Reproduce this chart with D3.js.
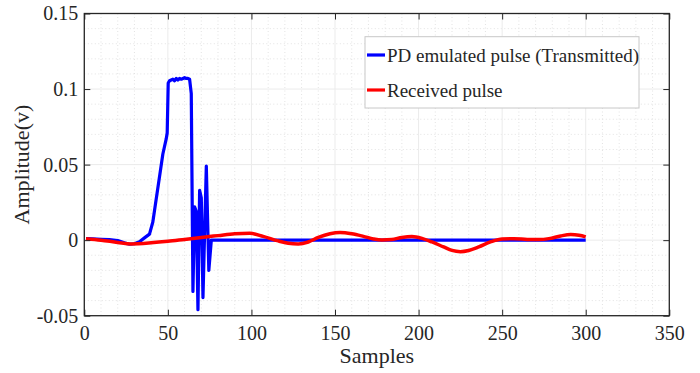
<!DOCTYPE html>
<html>
<head>
<meta charset="utf-8">
<script src="https://cdn.jsdelivr.net/npm/d3@7"></script>
<style>
  body { margin: 0; background: #fff; }
  svg text { font-family: "Liberation Serif", "Times New Roman", serif; fill: #262626; }
</style>
</head>
<body>
<div id="chart"></div>
<script>
// transmitted pulse (sample, amplitude)
const txSamples = [1, 5, 10, 15, 20, 24, 27, 30, 33, 36, 39, 41, 43, 45, 47, 49, 49.6, 50.2, 51, 52, 53, 54, 55, 56, 57, 58, 59, 60, 61, 62, 63, 64, 65, 66, 67, 68, 69, 70, 71, 73, 74.5, 76, 300];
const txValues  = [0.001, 0.0008, 0.0005, 0.0003, -0.0003, -0.0018, -0.0027, -0.0024, -0.001, 0.0015, 0.004, 0.012, 0.027, 0.042, 0.057, 0.067, 0.071, 0.104, 0.1055, 0.106, 0.1065, 0.1055, 0.107, 0.106, 0.107, 0.1065, 0.107, 0.1075, 0.107, 0.107, 0.1065, 0.097, -0.034, 0.022, 0.019, -0.046, 0.033, 0.028, -0.038, 0.049, -0.02, 0, 0];

// received pulse
const rxSamples = [1, 10, 20, 28, 40, 50, 60, 70, 80, 90, 99, 107, 116, 122, 128, 134, 140, 147, 153, 160, 167, 173, 178, 184, 190, 196, 202, 208, 215, 220, 225, 230, 236, 243, 250, 257, 265, 272, 278, 285, 291, 296, 300];
const rxValues  = [0.001, 0.0, -0.0015, -0.0025, -0.0018, -0.0008, 0.0005, 0.0018, 0.003, 0.0042, 0.0045, 0.0025, -0.0005, -0.002, -0.0025, -0.0012, 0.0018, 0.0042, 0.005, 0.0042, 0.0025, 0.0008, 0.0001, 0.0004, 0.0018, 0.0024, 0.0012, -0.0012, -0.0045, -0.0068, -0.0076, -0.0068, -0.0045, -0.0012, 0.0008, 0.0009, 0.0005, 0.0004, 0.001, 0.0028, 0.0037, 0.0033, 0.0022];

const xTicks = [0, 50, 100, 150, 200, 250, 300, 350];
const yTicks = [-0.05, 0, 0.05, 0.1, 0.15];
const legendLabels = ['PD emulated pulse (Transmitted)', 'Received pulse'];
const seriesColors = ['#0000ff', '#ff0000'];

const W = 700, H = 373;
const margin = {left: 84.3, right: 700 - 669.3, top: 13.5, bottom: 373 - 315.7};
const w = W - margin.left - margin.right;
const h = H - margin.top - margin.bottom;
const serif = '"Liberation Serif", "Times New Roman", serif';

const svg = d3.select('#chart')
    .append('svg')
    .attr('width', W)
    .attr('height', H);

const x = d3.scaleLinear().domain([0, 350]).range([margin.left, margin.left + w]);
const y = d3.scaleLinear().domain([-0.05, 0.15]).range([margin.top + h, margin.top]);

const grid = svg.append('g');
// minor grid
grid.selectAll('.mx')
    .data(d3.range(0, 351, 10).filter(v => v % 50 !== 0))
    .enter().append('line')
    .attr('x1', d => x(d)).attr('x2', d => x(d))
    .attr('y1', margin.top).attr('y2', margin.top + h)
    .attr('stroke', '#dcdcdc').attr('stroke-width', 0.8)
    .attr('stroke-dasharray', '1,2.5');
grid.selectAll('.my')
    .data(d3.range(-50, 151, 10).filter(v => v % 50 !== 0).map(v => v / 1000))
    .enter().append('line')
    .attr('x1', margin.left).attr('x2', margin.left + w)
    .attr('y1', d => y(d)).attr('y2', d => y(d))
    .attr('stroke', '#dcdcdc').attr('stroke-width', 0.8)
    .attr('stroke-dasharray', '1,2.5');
// major grid
grid.selectAll('.gx')
    .data(xTicks)
    .enter().append('line')
    .attr('x1', d => x(d)).attr('x2', d => x(d))
    .attr('y1', margin.top).attr('y2', margin.top + h)
    .attr('stroke', '#ebebeb').attr('stroke-width', 1);
grid.selectAll('.gy')
    .data(yTicks)
    .enter().append('line')
    .attr('x1', margin.left).attr('x2', margin.left + w)
    .attr('y1', d => y(d)).attr('y2', d => y(d))
    .attr('stroke', '#ebebeb').attr('stroke-width', 1);

// series
const txData = txSamples.map((s, i) => [s, txValues[i]]);
const rxData = rxSamples.map((s, i) => [s, rxValues[i]]);

svg.append('path')
    .datum(txData)
    .attr('fill', 'none')
    .attr('stroke', seriesColors[0])
    .attr('stroke-width', 3.2)
    .attr('stroke-linejoin', 'round')
    .attr('d', d3.line().x(d => x(d[0])).y(d => y(d[1])));

svg.append('path')
    .datum(rxData)
    .attr('fill', 'none')
    .attr('stroke', seriesColors[1])
    .attr('stroke-width', 3.5)
    .attr('d', d3.line().curve(d3.curveMonotoneX).x(d => x(d[0])).y(d => y(d[1])));

// axes (box with inward ticks)
const tickLen = 6;
const fmtY = d => String(+d.toFixed(2));   // plain hyphen minus like the original
const styleLabels = g => g.selectAll('text')
    .style('font-family', serif)
    .style('font-size', '20px')
    .attr('fill', '#262626');

svg.append('g')
    .attr('transform', `translate(0,${margin.top + h})`)
    .call(d3.axisBottom(x).tickValues(xTicks).tickSizeInner(-tickLen).tickSizeOuter(0).tickPadding(10).tickFormat(d => String(d)))
    .call(g => g.select('.domain').remove())
    .call(g => g.selectAll('line').attr('stroke', '#262626'))
    .call(styleLabels);

svg.append('g')
    .attr('transform', `translate(0,${margin.top})`)
    .call(d3.axisTop(x).tickValues(xTicks).tickSizeInner(-tickLen).tickSizeOuter(0).tickFormat(''))
    .call(g => g.select('.domain').remove())
    .call(g => g.selectAll('line').attr('stroke', '#262626'));

svg.append('g')
    .attr('transform', `translate(${margin.left},0)`)
    .call(d3.axisLeft(y).tickValues(yTicks).tickSizeInner(-tickLen).tickSizeOuter(0).tickPadding(6).tickFormat(fmtY))
    .call(g => g.select('.domain').remove())
    .call(g => g.selectAll('line').attr('stroke', '#262626'))
    .call(styleLabels);

svg.append('g')
    .attr('transform', `translate(${margin.left + w},0)`)
    .call(d3.axisRight(y).tickValues(yTicks).tickSizeInner(-tickLen).tickSizeOuter(0).tickFormat(''))
    .call(g => g.select('.domain').remove())
    .call(g => g.selectAll('line').attr('stroke', '#262626'));

svg.append('rect')
    .attr('x', margin.left).attr('y', margin.top)
    .attr('width', w).attr('height', h)
    .attr('fill', 'none')
    .attr('stroke', '#262626')
    .attr('stroke-width', 1.3);

// axis titles
svg.append('text')
    .attr('x', margin.left + w / 2)
    .attr('y', 363)
    .attr('text-anchor', 'middle')
    .style('font-size', '22px')
    .text('Samples');

svg.append('text')
    .attr('transform', `translate(29,${margin.top + h / 2}) rotate(-90)`)
    .attr('text-anchor', 'middle')
    .style('font-size', '22px')
    .text('Amplitude(v)');

// legend
const legend = svg.append('g');
legend.append('rect')
    .attr('x', 365).attr('y', 36.7)
    .attr('width', 274).attr('height', 71.3)
    .attr('fill', '#fff')
    .attr('stroke', '#c8c8c8')
    .attr('stroke-width', 1);

legendLabels.forEach((label, i) => {
    const ly = 55 + i * 35;
    legend.append('line')
        .attr('x1', 367).attr('x2', 385)
        .attr('y1', ly).attr('y2', ly)
        .attr('stroke', seriesColors[i])
        .attr('stroke-width', 3.2);
    legend.append('text')
        .attr('x', 387)
        .attr('y', ly + 6.5)
        .style('font-size', '19px')
        .text(label);
});
</script>
</body>
</html>
